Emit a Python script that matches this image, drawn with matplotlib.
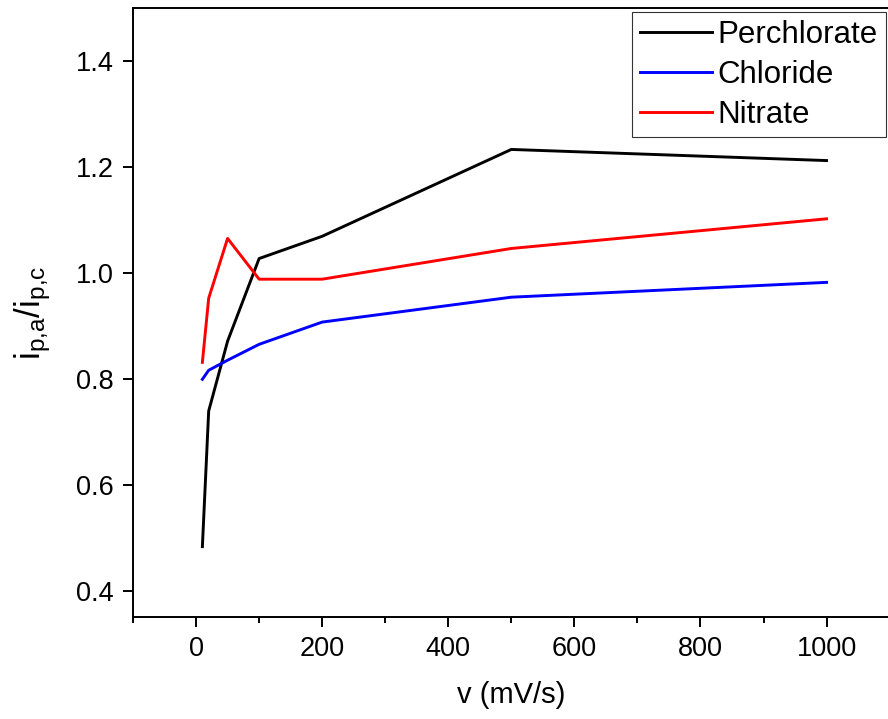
import matplotlib.pyplot as plt
import numpy as np

plt.rcParams['font.family'] = ['Liberation Sans', 'DejaVu Sans']
plt.rcParams['mathtext.fontset'] = 'custom'
plt.rcParams['mathtext.rm'] = 'Liberation Sans'
plt.rcParams['mathtext.it'] = 'Liberation Sans'

scan_rate = [10, 20, 50, 100, 200, 500, 1000]
perchlorate = [0.483, 0.739, 0.871, 1.027, 1.069, 1.233, 1.212]
chloride = [0.799, 0.816, 0.835, 0.865, 0.907, 0.954, 0.982]
nitrate = [0.831, 0.952, 1.065, 0.988, 0.988, 1.046, 1.102]

fig = plt.figure(figsize=(8.88, 7.19), dpi=100)
ax = fig.add_axes([0.1498, 0.1418, 0.852, 0.847])

ax.plot(scan_rate, perchlorate, color="black", lw=2.1, label="Perchlorate")
ax.plot(scan_rate, chloride, color="blue", lw=2.1, label="Chloride")
ax.plot(scan_rate, nitrate, color="red", lw=2.1, label="Nitrate")

ax.set_xlim(-100, 1100)
ax.set_ylim(0.35, 1.5)
ax.set_xticks(np.arange(0, 1001, 200))
ax.set_xticks(np.arange(-100, 1101, 100), minor=True)
ax.set_yticks([0.4, 0.6, 0.8, 1.0, 1.2, 1.4])
ax.tick_params(axis="both", which="major", labelsize=19.5, length=7, width=1.4, pad=7)
ax.tick_params(axis="x", which="minor", length=4, width=1.4)
for s in ax.spines.values():
    s.set_linewidth(1.4)

ax.set_xlabel("v (mV/s)", fontsize=21, labelpad=13)
ax.set_ylabel(r"$\mathregular{i_{p{,}a}/i_{p{,}c}}$", fontsize=25, labelpad=16)

leg = ax.legend(loc="upper right", fontsize=22.5, frameon=True, fancybox=False,
                edgecolor="black", handlelength=2.3, handletextpad=0.2,
                labelspacing=0.32, borderpad=0.25, borderaxespad=0.12)
leg.get_frame().set_linewidth(0.8)

fig.savefig("out.png", dpi=100)
